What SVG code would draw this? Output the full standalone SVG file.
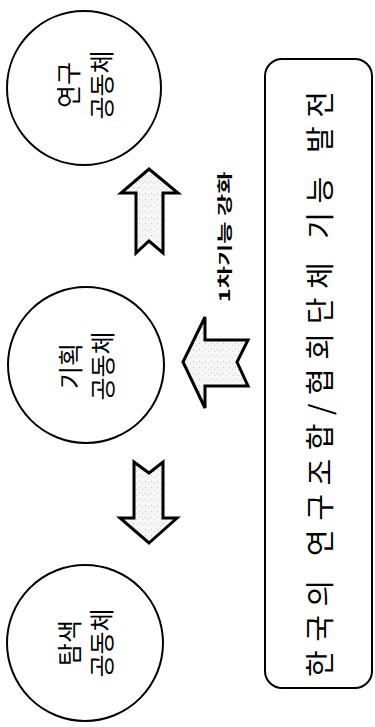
<svg xmlns="http://www.w3.org/2000/svg" width="375" height="727" viewBox="0 0 375 727">
<defs>
<pattern id="stip" width="6" height="6" patternUnits="userSpaceOnUse">
<rect width="6" height="6" fill="#f6f6f6"/>
<rect x="1" y="1" width="1" height="1" fill="#c0c0c0"/>
<rect x="4" y="3" width="1" height="1" fill="#d0d0d0"/>
</pattern>
</defs>
<style>
.node circle{fill:#fff;stroke:#000;stroke-width:2}
.lbl{font-family:"Noto Sans CJK KR","Noto Sans",sans-serif;font-size:25px;fill:#000}
.arr{fill:url(#stip);stroke:#000;stroke-width:3;stroke-linejoin:miter}
</style>
<rect width="375" height="727" fill="#fff"/>
<g id="node-research" class="node">
<circle cx="84" cy="88" r="77"/>
<text class="lbl" transform="translate(84,88) rotate(-90)" text-anchor="middle" dominant-baseline="central"><tspan x="3" y="-17">연구</tspan><tspan x="3" y="16">공동체</tspan></text>
</g>
<g id="node-planning" class="node">
<circle cx="86" cy="365" r="78"/>
<text class="lbl" transform="translate(86,365) rotate(-90)" text-anchor="middle" dominant-baseline="central"><tspan x="-1" y="-17">기획</tspan><tspan x="-1" y="15">공동체</tspan></text>
</g>
<g id="node-explore" class="node">
<circle cx="85" cy="643" r="78"/>
<text class="lbl" transform="translate(85,643) rotate(-90)" text-anchor="middle" dominant-baseline="central"><tspan x="0" y="-17">탐색</tspan><tspan x="0" y="15">공동체</tspan></text>
</g>
<g id="node-goal">
<rect x="265" y="59" width="107" height="629" rx="17" ry="17" fill="#fff" stroke="#000" stroke-width="2"/>
<text transform="translate(318,384) rotate(-90)" text-anchor="middle" dominant-baseline="central" font-family="Noto Sans CJK KR, Noto Sans, sans-serif" font-size="29" textLength="586" lengthAdjust="spacing">한국의 연구조합/협회단체 기능 발전</text>
</g>
<g id="connectors">
<polygon class="arr" points="149,169 178,193 163,193 163,253 149,241 136,253 136,193 121,193"/>
<polygon class="arr" points="183,362 205,317 205,340 248,340 237,362 248,386 205,386 205,408"/>
<polygon class="arr" points="149,543 177,518 163,518 163,462 149,473 134,462 134,518 120,518"/>
<text transform="translate(223,237) rotate(-90)" text-anchor="middle" dominant-baseline="central" font-family="Noto Sans CJK KR, Noto Sans, sans-serif" font-size="15" font-weight="bold" textLength="131" lengthAdjust="spacingAndGlyphs">1차기능 강화</text>
</g>
</svg>
